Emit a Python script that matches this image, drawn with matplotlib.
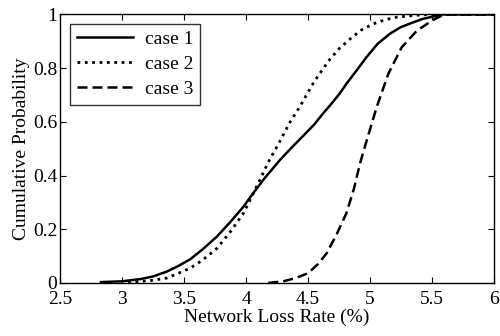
import matplotlib
matplotlib.use("Agg")
import matplotlib.pyplot as plt

plt.rcParams["font.family"] = ["Liberation Serif", "DejaVu Serif"]

# CDF samples (loss rate in %, cumulative probability)
case1_x = [2.83, 3.0, 3.145, 3.25, 3.36, 3.45, 3.55, 3.65, 3.764, 3.87, 3.98, 4.032,
           4.15, 4.274, 4.37, 4.462, 4.55, 4.623, 4.69, 4.758, 4.81, 4.906, 4.97,
           5.06, 5.16, 5.25, 5.35, 5.43, 5.51, 5.58, 6.0]
case1_y = [0.003, 0.006, 0.014, 0.024, 0.042, 0.062, 0.088, 0.125, 0.172, 0.225, 0.284, 0.318,
           0.39, 0.458, 0.505, 0.548, 0.59, 0.632, 0.668, 0.707, 0.742, 0.80, 0.84,
           0.89, 0.928, 0.953, 0.971, 0.984, 0.992, 1.0, 1.0]

case2_x = [3.05, 3.145, 3.25, 3.36, 3.45, 3.55, 3.65, 3.764, 3.87, 3.98, 4.086, 4.18,
           4.274, 4.35, 4.435, 4.55, 4.664, 4.75, 4.84, 4.93, 5.027, 5.12, 5.215,
           5.4, 5.5, 6.0]
case2_y = [0.0, 0.005, 0.01, 0.018, 0.035, 0.055, 0.085, 0.128, 0.188, 0.26, 0.359, 0.45,
           0.528, 0.595, 0.657, 0.75, 0.826, 0.872, 0.909, 0.942, 0.965, 0.98, 0.99,
           0.998, 1.0, 1.0]

case3_x = [4.18, 4.3, 4.4, 4.5, 4.58, 4.65, 4.73, 4.81, 4.87, 4.92, 4.973, 5.054,
           5.148, 5.256, 5.377, 5.51, 5.6, 6.0]
case3_y = [0.0, 0.006, 0.018, 0.036, 0.07, 0.11, 0.18, 0.26, 0.35, 0.446, 0.53, 0.655,
           0.779, 0.878, 0.939, 0.98, 1.0, 1.0]

fig = plt.figure(figsize=(5.0, 3.36), dpi=100)
ax = fig.add_axes([0.12, 0.158, 0.868, 0.799])

ax.plot(case1_x, case1_y, color="black", linestyle="-", linewidth=1.8, label="case 1")
ax.plot(case2_x, case2_y, color="black", linestyle=":", linewidth=2.0, label="case 2")
ax.plot(case3_x, case3_y, color="black", linestyle=(0, (4, 2)), linewidth=1.8, label="case 3")

ax.set_xlim(2.5, 6)
ax.set_ylim(0, 1)
ax.set_xticks([2.5, 3, 3.5, 4, 4.5, 5, 5.5, 6])
ax.set_xticklabels(["2.5", "3", "3.5", "4", "4.5", "5", "5.5", "6"])
ax.set_yticks([0, 0.2, 0.4, 0.6, 0.8, 1])
ax.set_yticklabels(["0", "0.2", "0.4", "0.6", "0.8", "1"])
ax.tick_params(direction="in", top=True, right=True, labelsize=14, length=4)
ax.tick_params(axis="x", pad=6)
ax.tick_params(axis="y", pad=2)
for s in ax.spines.values():
    s.set_linewidth(1.0)

ax.set_xlabel("Network Loss Rate (%)", fontsize=14, labelpad=0)
ax.set_ylabel("Cumulative Probability", fontsize=14, labelpad=2)

leg = ax.legend(loc="upper left", bbox_to_anchor=(0.023, 0.966), fontsize=14,
                handlelength=2.9, frameon=True, fancybox=False, borderpad=0.35,
                labelspacing=0.38, handletextpad=0.6, borderaxespad=0)
leg.get_frame().set_edgecolor("black")
leg.get_frame().set_linewidth(1.0)

fig.savefig("out.png", dpi=100)
